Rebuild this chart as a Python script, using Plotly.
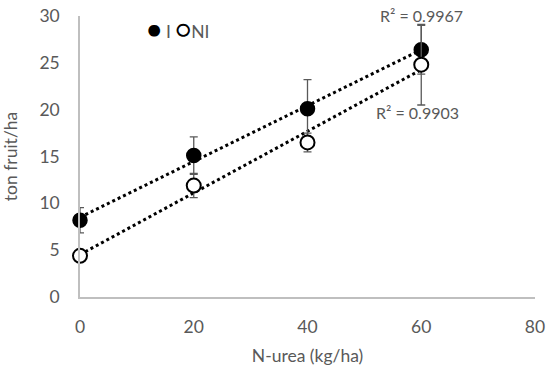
import numpy as np
import plotly.graph_objects as go

x_vals = [0, 20, 40, 60]
i_vals = [8.2, 15.1, 20.1, 26.4]
i_err = [1.35, 2.0, 3.1, 2.6]
ni_vals = [4.4, 11.9, 16.5, 24.8]
ni_err = [0.4, 1.3, 1.0, 4.3]
r2_labels = ["R² = 0.9967", "R² = 0.9903"]
series_names = ["I", "NI"]

gray = "#595959"
font = "Lato, Open Sans, sans-serif"
fs = 17.5

fig = go.Figure()

# trendlines
for ys in (i_vals, ni_vals):
    m, b = np.polyfit(x_vals, ys, 1)
    xs = np.array([x_vals[0], x_vals[-1]])
    fig.add_trace(go.Scatter(x=xs, y=m * xs + b, mode="lines",
                             line=dict(color="black", width=3, dash="dot"),
                             showlegend=False, hoverinfo="skip"))

fig.add_trace(go.Scatter(x=x_vals, y=i_vals, mode="markers", name=series_names[0],
                         marker=dict(symbol="circle", size=14, color="black",
                                     line=dict(color="black", width=1.5)),
                         error_y=dict(type="data", array=i_err, color=gray,
                                      thickness=1.3, width=4),
                         cliponaxis=False, showlegend=False))
fig.add_trace(go.Scatter(x=x_vals, y=ni_vals, mode="markers", name=series_names[1],
                         marker=dict(symbol="circle", size=14, color="white",
                                     line=dict(color="black", width=2)),
                         error_y=dict(type="data", array=ni_err, color=gray,
                                      thickness=1.3, width=4),
                         cliponaxis=False, showlegend=False))

# legend as text
sym = '<span style="color:black;font-size:24px">%s</span>'
fig.add_annotation(xref="paper", yref="paper", x=0.143, y=0.955, xanchor="left",
                   yanchor="middle", showarrow=False,
                   text=(sym % "●") + " " + series_names[0] + " " + (sym % "○") + series_names[1],
                   font=dict(size=fs, color=gray, family=font))

fig.add_annotation(x=60, y=30, yshift=1, text=r2_labels[0], showarrow=False,
                   font=dict(size=16, color=gray, family=font))
fig.add_annotation(x=59.3, y=19.7, text=r2_labels[1], showarrow=False,
                   font=dict(size=16, color=gray, family=font))

fig.update_layout(
    width=550, height=366,
    margin=dict(l=80, r=15, t=16, b=69, autoexpand=False),
    plot_bgcolor="white", paper_bgcolor="white",
    font=dict(family=font, size=fs, color=gray),
    showlegend=False,
    xaxis=dict(range=[0, 80], tickvals=[0, 20, 40, 60, 80], showgrid=False,
               zeroline=False, showline=True, linecolor="#bfbfbf", linewidth=1.5,
               ticks="", ticklabelstandoff=13, automargin=True,
               ticklabeloverflow="allow",
               title=dict(text="N-urea (kg/ha)", font=dict(size=fs, color=gray), standoff=14)),
    yaxis=dict(range=[0, 30], tickvals=[0, 5, 10, 15, 20, 25, 30], showgrid=False,
               zeroline=False, showline=True, linecolor="#bfbfbf", linewidth=1.5,
               ticks="", ticklabelstandoff=15, automargin=True,
               ticklabeloverflow="allow",
               title=dict(text="ton fruit/ha", font=dict(size=fs, color=gray), standoff=21)),
)

fig.write_html("out.html", config={"displayModeBar": False},
               post_script="document.body.style.margin='0';document.body.style.overflow='hidden';")
